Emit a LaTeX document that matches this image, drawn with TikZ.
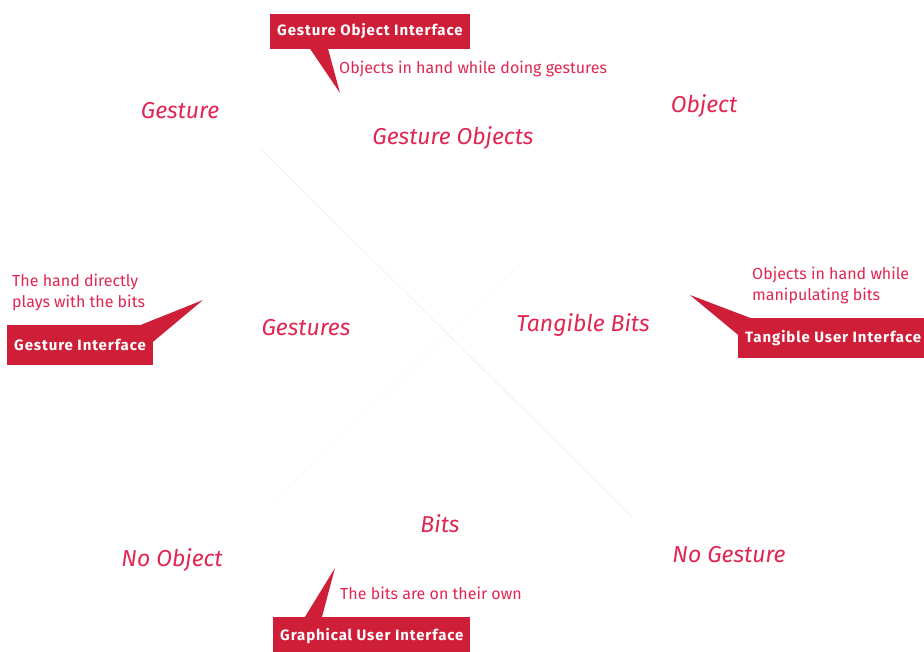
\documentclass[tikz,border=0pt]{standalone}
\usepackage{fontspec}
\setmainfont{Fira Sans}
\usepackage{tikz}
\usetikzlibrary{positioning}
\definecolor{calloutred}{RGB}{206,30,56}
\definecolor{labelpink}{RGB}{224,38,82}

\begin{document}
\begin{tikzpicture}[
    x=1pt, y=-1pt,
    axis/.style={labelpink!9, line width=0.8pt},
    region/.style={font=\fontsize{23}{26}\selectfont\itshape, text=labelpink},
    tag/.style={rectangle, fill=calloutred, text=white, anchor=west,
                font=\fontsize{15}{17}\selectfont\bfseries\addfontfeatures{LetterSpace=6},
                inner xsep=7pt, minimum height=35pt},
    note/.style={font=\fontsize{16}{21}\selectfont, text=labelpink,
                 align=left, anchor=west, inner sep=0pt}
]
\useasboundingbox (0,0) rectangle (924,651);

% the two crossing axes
\coordinate (gesture end) at (262,150);
\coordinate (nogesture end) at (632,517);
\coordinate (object end) at (522,262);
\coordinate (noobject end) at (275,500);
\draw[axis] (gesture end) -- (nogesture end);
\draw[axis, labelpink!3] (object end) -- (noobject end);

% poles and quadrants
\node[region] (gesture)   at (180,111) {Gesture};
\node[region] (object)    at (704,106) {Object};
\node[region] (noobject)  at (172,560) {No Object};
\node[region] (nogesture) at (729,555) {No Gesture};
\node[region] (gestobj)   at (453,138) {Gesture Objects};
\node[region] (gestures)  at (306,328) {Gestures};
\node[region] (tangible)  at (583,325) {Tangible Bits};
\node[region] (bits)      at (440,524) {Bits};

% callouts
\node[tag] (goi) at (270,31) {Gesture Object Interface};
\coordinate (goi tip) at (340,93);
\fill[calloutred] ([xshift=40pt]goi.south west) -- (goi tip)
    -- ([xshift=58pt]goi.south west) -- cycle;
\node[note] (goi note) at (339,69) {Objects in hand while doing gestures};

\node[tag, minimum height=40pt] (gi) at (7,345) {Gesture Interface};
\coordinate (gi tip) at (203,300);
\fill[calloutred] ([xshift=-12pt]gi.north east) -- (gi tip)
    -- ([yshift=-17pt]gi.north east) -- cycle;
\node[note] (gi note) at (12,292) {The hand directly\\plays with the bits};

\node[tag, minimum height=40pt] (tui) at (738,338) {Tangible User Interface};
\coordinate (tui tip) at (690,295);
\fill[calloutred] ([xshift=12pt]tui.north west) -- (tui tip)
    -- ([yshift=-17pt]tui.north west) -- cycle;
\node[note] (tui note) at (752,285) {Objects in hand while\\manipulating bits};

\node[tag, minimum height=38pt] (gui) at (273,636) {Graphical User Interface};
\coordinate (gui tip) at (335,568);
\fill[calloutred] ([xshift=32pt]gui.north west) -- (gui tip)
    -- ([xshift=49pt]gui.north west) -- cycle;
\node[note] (gui note) at (340,593) {The bits are on their own};
\end{tikzpicture}
\end{document}
